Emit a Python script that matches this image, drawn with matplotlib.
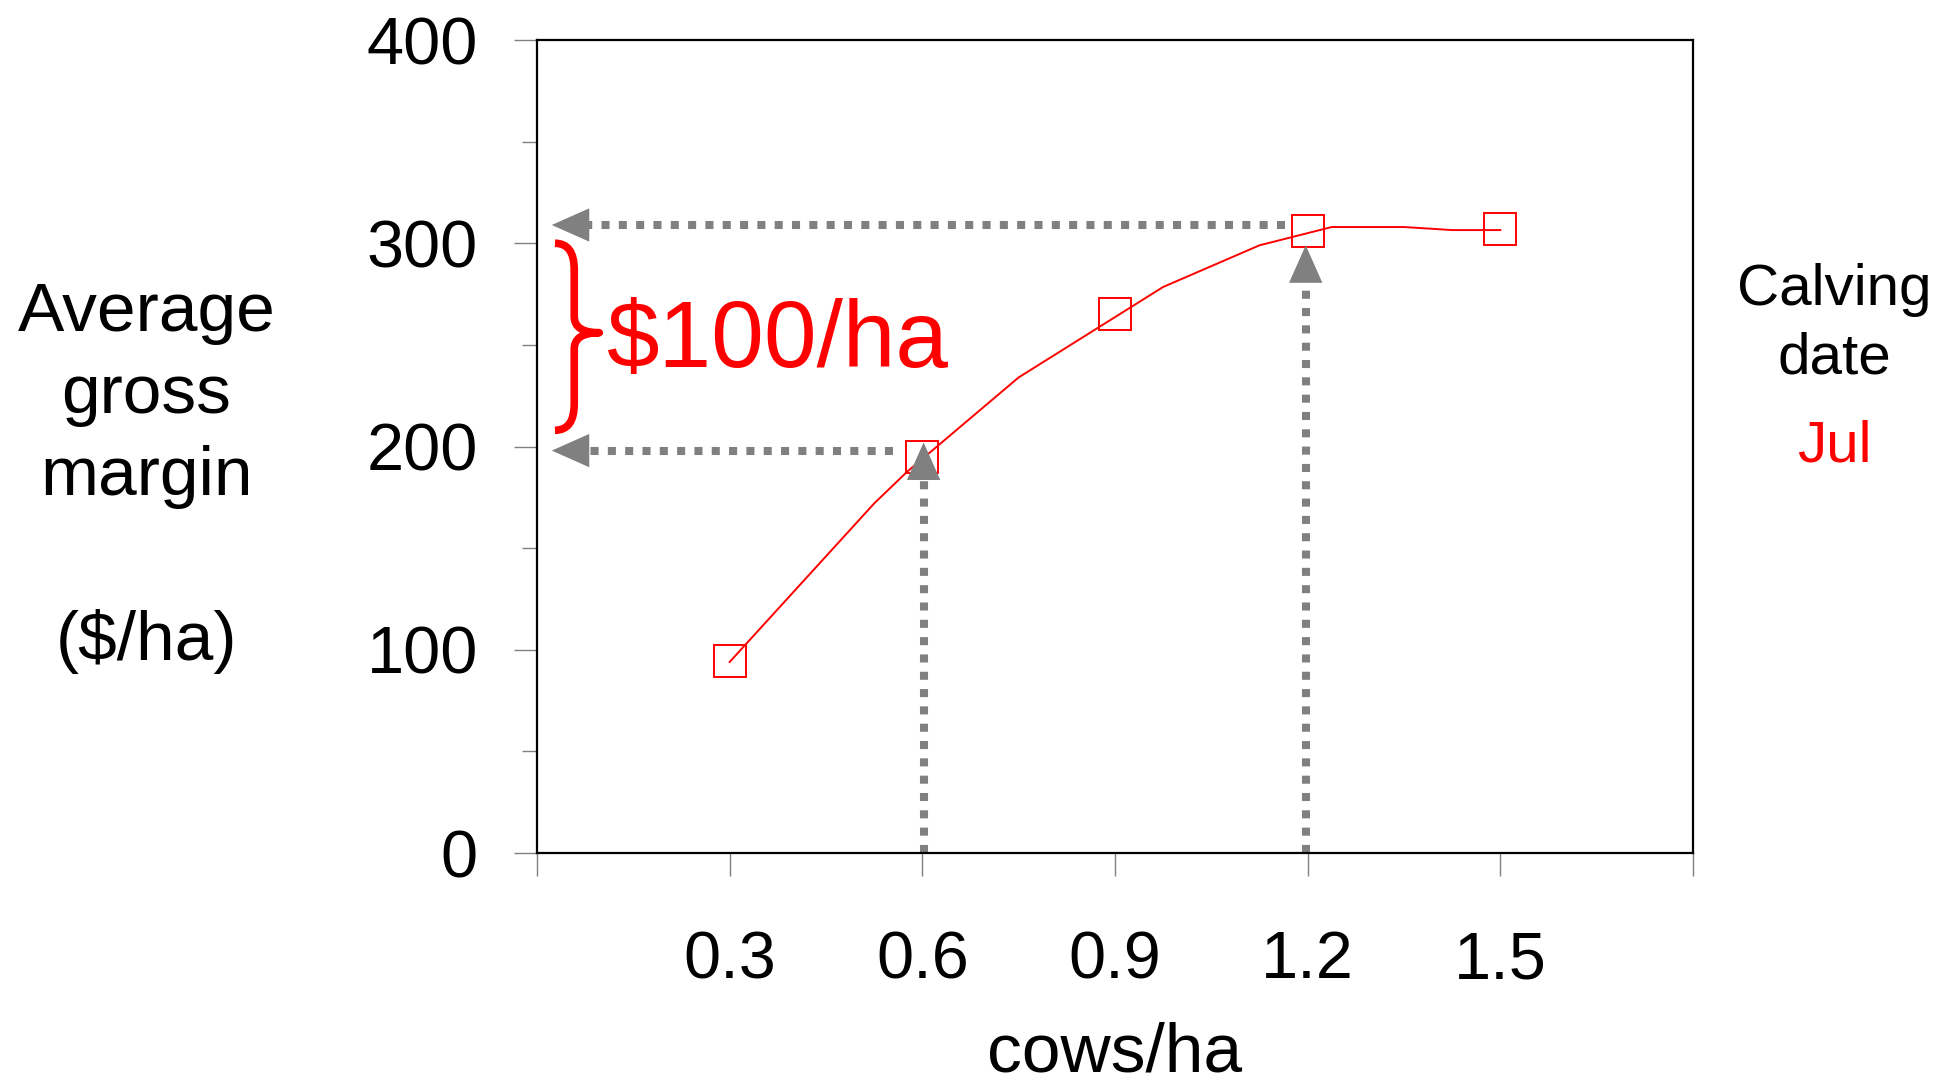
import matplotlib
matplotlib.use("Agg")
import matplotlib.pyplot as plt
from matplotlib.path import Path
from matplotlib.patches import PathPatch

plt.rcParams['font.family'] = ['Liberation Sans', 'DejaVu Sans']

# stocking rate (cows/ha) and average gross margin ($/ha), July calving
rates = [0.3, 0.6, 0.9, 1.2, 1.5]
margins = [94.5, 195, 265, 306, 307]

# simulated response curve drawn under the markers
curve_x = [0.3, 0.525, 0.576, 0.75, 0.975, 1.125, 1.2375, 1.35, 1.425, 1.5]
curve_y = [94, 172, 187.5, 234, 278.5, 299, 308, 308, 306.5, 306.5]

x_ticks = [0.0, 0.3, 0.6, 0.9, 1.2, 1.5, 1.8]
x_labels = ['', '0.3', '0.6', '0.9', '1.2', '1.5', '']
y_ticks = [0, 100, 200, 300, 400]

# read-off guides: vertical from the x axis, horizontal back to the y axis
v_guides = [(0.602, 0, 202), (1.197, 0, 299)]
h_guides = [(0.554, 198, 0.023), (1.165, 309, 0.023)]

gray = '#808080'
red = '#ff0000'

fig = plt.figure(figsize=(19.52, 10.85), dpi=100)
ax = fig.add_axes([0.2751, 0.2138, 0.5922, 0.7493])

ax.plot(curve_x, curve_y, color=red, lw=1.4, zorder=3)
ax.plot(rates, margins, ls='none', marker='s', ms=23, mfc='none',
        mec=red, mew=1.4, zorder=4)

guide_kw = dict(color=gray, lw=5.8, dashes=(1, 1.15), dash_capstyle='butt',
                solid_capstyle='butt', zorder=2)
head_kw = dict(arrowstyle='-|>,head_length=2.7,head_width=1.2',
               color=gray, lw=0, shrinkA=0, shrinkB=0, mutation_scale=10)

for x, y0, y1 in v_guides:
    ax.plot([x, x], [y0, y1 - 13], **guide_kw)
    ax.annotate('', xy=(x, y1), xytext=(x, y1 - 13), arrowprops=head_kw,
                zorder=5)
for x0, y, x1 in h_guides:
    ax.plot([x0, x1 + 0.04], [y, y], **guide_kw)
    ax.annotate('', xy=(x1, y), xytext=(x1 + 0.04, y), arrowprops=head_kw,
                zorder=5)

# curly brace spanning the $100/ha gap
bx0, bx1, bx2 = 0.028, 0.058, 0.097
btop, bbot, bmid = 300, 208, 256
verts = [(bx0, btop), (bx1, btop), (bx1, btop - 13),
         (bx1, bmid + 8),
         (bx1, bmid), (bx2, bmid),
         (bx1, bmid), (bx1, bmid - 8),
         (bx1, bbot + 13),
         (bx1, bbot), (bx0, bbot)]
codes = [Path.MOVETO, Path.CURVE3, Path.CURVE3,
         Path.LINETO,
         Path.CURVE3, Path.CURVE3,
         Path.CURVE3, Path.CURVE3,
         Path.LINETO,
         Path.CURVE3, Path.CURVE3]
ax.add_patch(PathPatch(Path(verts, codes), fill=False, ec=red, lw=5.5,
                       capstyle='butt', joinstyle='round', zorder=3))
ax.text(0.109, 239, r'\$100/ha', color=red, fontsize=68, va='baseline',
        ha='left')

ax.set_xlim(0, 1.8)
ax.set_ylim(0, 400)
ax.set_xticks(x_ticks)
ax.set_xticklabels(x_labels)
ax.set_yticks(y_ticks)
ax.set_yticks([50, 150, 250, 350], minor=True)

ax.tick_params(axis='both', which='major', direction='out', length=16.5,
               width=1, color=gray, labelsize=48)
ax.tick_params(axis='x', which='major', pad=39)
ax.tick_params(axis='y', which='major', pad=26)
ax.tick_params(axis='y', which='minor', direction='out', length=11,
               width=1, color=gray)
for s in ax.spines.values():
    s.set_linewidth(1.6)
    s.set_color('black')

# multi-line texts are anchored on the baseline of their last line
fig.text(0.075, 1 - 660 / 1085, 'Average\ngross\nmargin\n\n($/ha)',
         fontsize=50, ha='center', va='baseline', multialignment='center',
         linespacing=1.36)
fig.text(0.571, 13 / 1085, 'cows/ha', fontsize=50, ha='center',
         va='baseline')
fig.text(0.9396, 1 - 373 / 1085, 'Calving\ndate', fontsize=42, ha='center',
         va='baseline', multialignment='center', linespacing=1.34)
fig.text(0.9396, 1 - 462 / 1085, 'Jul', fontsize=42, color=red,
         ha='center', va='baseline')

fig.savefig('out.png', dpi=100)
